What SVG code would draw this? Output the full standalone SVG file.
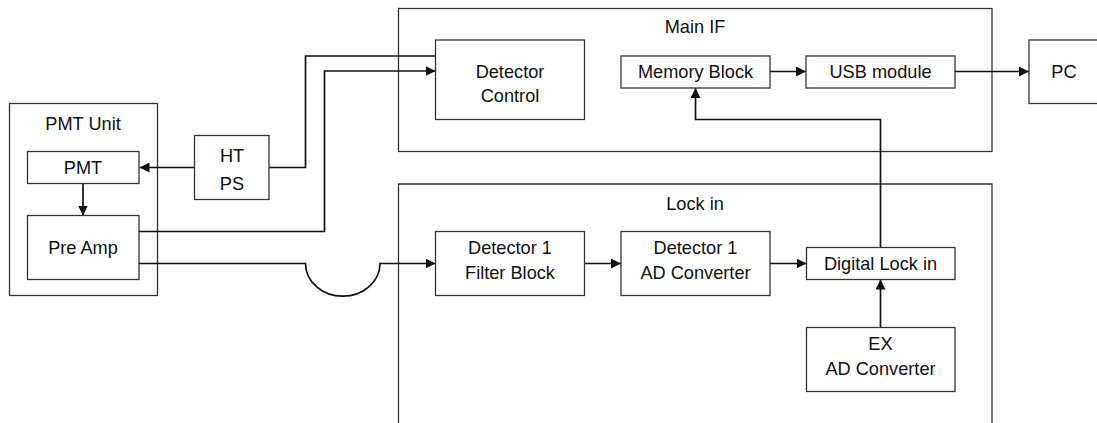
<svg xmlns="http://www.w3.org/2000/svg" width="1097" height="423" viewBox="0 0 1097 423">
  <style>
    .box { fill: #fff; stroke: #333; stroke-width: 1.3; }
    .frame { fill: none; stroke: #333; stroke-width: 1.3; }
    .lbl { font-family: "Liberation Sans", Arial, sans-serif; font-size: 18.2px; fill: #111; text-anchor: middle; }
    .wire { fill: none; stroke: #111; stroke-width: 1.7; }
  </style>
  <defs>
    <marker id="arrow" viewBox="0 0 10 10" refX="10" refY="5" markerWidth="10" markerHeight="10" markerUnits="userSpaceOnUse" orient="auto">
      <path d="M0,0 L10,5 L0,10 Z" fill="#111"/>
    </marker>
  </defs>

  <rect width="1097" height="423" fill="#fff"/>

  <!-- Enclosures -->
  <g id="pmt-unit">
    <rect class="frame" x="9.5" y="103.5" width="148" height="192"/>
    <text class="lbl" x="83" y="130">PMT Unit</text>
  </g>
  <g id="main-if">
    <rect class="frame" x="398.5" y="8.5" width="593.5" height="143"/>
    <text class="lbl" x="695" y="33">Main IF</text>
  </g>
  <g id="lock-in">
    <path class="frame" d="M398.5,430 V184 H992 V430"/>
    <text class="lbl" x="695" y="210">Lock in</text>
  </g>

  <!-- Connectors -->
  <g id="connectors">
    <path class="wire" d="M194.5,167.5 H139.5" marker-end="url(#arrow)"/>
    <path class="wire" d="M83,183.5 V215.5" marker-end="url(#arrow)"/>
    <path class="wire" d="M269,167.5 H305.5 V56 H435.5"/>
    <path class="wire" d="M139,231.5 H324.5 V71 H435.5" marker-end="url(#arrow)"/>
    <path class="wire" d="M139,263.5 H305.5 A37,32.5 0 0 0 380,263.5 H435.5" marker-end="url(#arrow)"/>
    <path class="wire" d="M584.5,263.5 H621" marker-end="url(#arrow)"/>
    <path class="wire" d="M770,263.5 H806.5" marker-end="url(#arrow)"/>
    <path class="wire" d="M880.5,327.5 V279.5" marker-end="url(#arrow)"/>
    <path class="wire" d="M880.5,247.5 V119.5 H695.5 V88" marker-end="url(#arrow)"/>
    <path class="wire" d="M770,71.5 H806" marker-end="url(#arrow)"/>
    <path class="wire" d="M955,71.5 H1029" marker-end="url(#arrow)"/>
  </g>

  <!-- Blocks -->
  <g id="pmt">
    <rect class="box" x="27.5" y="151.5" width="111.5" height="32"/>
    <text class="lbl" x="83" y="173.5">PMT</text>
  </g>
  <g id="pre-amp">
    <rect class="box" x="27.5" y="215.5" width="111.5" height="64"/>
    <text class="lbl" x="83" y="253.5">Pre Amp</text>
  </g>
  <g id="ht-ps">
    <rect class="box" x="194.5" y="135.5" width="74.5" height="64"/>
    <text class="lbl" x="232" y="162">HT</text>
    <text class="lbl" x="232" y="190">PS</text>
  </g>
  <g id="detector-control">
    <rect class="box" x="435.5" y="40" width="149" height="79.5"/>
    <text class="lbl" x="510" y="77.5">Detector</text>
    <text class="lbl" x="510" y="102">Control</text>
  </g>
  <g id="memory-block">
    <rect class="box" x="621" y="56" width="149" height="32"/>
    <text class="lbl" x="695.5" y="78">Memory Block</text>
  </g>
  <g id="usb-module">
    <rect class="box" x="806" y="56" width="149" height="32"/>
    <text class="lbl" x="880.5" y="78">USB module</text>
  </g>
  <g id="pc">
    <rect class="box" x="1029" y="40" width="80" height="63.5"/>
    <text class="lbl" x="1064" y="78">PC</text>
  </g>
  <g id="filter-block">
    <rect class="box" x="435.5" y="231.5" width="149" height="64"/>
    <text class="lbl" x="510" y="254">Detector 1</text>
    <text class="lbl" x="510" y="278.5">Filter Block</text>
  </g>
  <g id="ad-converter">
    <rect class="box" x="621" y="231.5" width="149" height="64"/>
    <text class="lbl" x="695.5" y="254">Detector 1</text>
    <text class="lbl" x="695.5" y="278.5">AD Converter</text>
  </g>
  <g id="digital-lock-in">
    <rect class="box" x="806.5" y="247.5" width="148.5" height="32"/>
    <text class="lbl" x="880.5" y="269.5">Digital Lock in</text>
  </g>
  <g id="ex-ad-converter">
    <rect class="box" x="806.5" y="327.5" width="148.5" height="64"/>
    <text class="lbl" x="880.5" y="350">EX</text>
    <text class="lbl" x="880.5" y="374.5">AD Converter</text>
  </g>
</svg>
